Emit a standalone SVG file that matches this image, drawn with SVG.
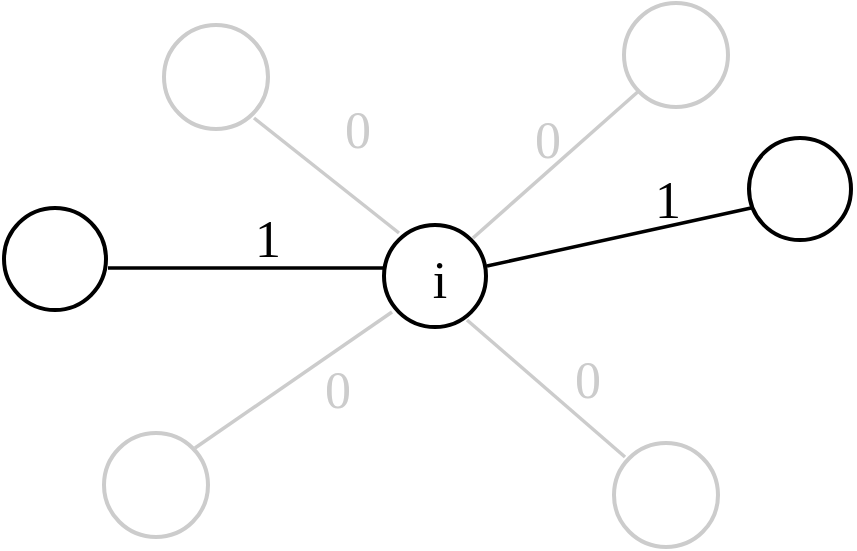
<svg xmlns="http://www.w3.org/2000/svg" width="857" height="551" viewBox="0 0 857 551">
<style>
.b{fill:#fff;stroke:#000;stroke-width:4}
.g{fill:#fff;stroke:#cccccc;stroke-width:4}
.eb{stroke:#000;stroke-width:3.5;fill:none}
.eg{stroke:#cccccc;stroke-width:3.5;fill:none}
text{font-family:"Liberation Serif","Times New Roman",serif;font-size:52px;text-anchor:middle}
.lb{fill:#000}
.lg{fill:#cccccc}
</style>
<rect width="857" height="551" fill="#fff"/>
<g id="edges">
<line class="eg" x1="254" y1="118" x2="399" y2="233"/>
<line class="eg" x1="641" y1="89" x2="473" y2="238"/>
<line class="eg" x1="392" y1="312" x2="195" y2="448"/>
<line class="eg" x1="467" y1="320" x2="625" y2="457"/>
<line class="eb" x1="108" y1="268" x2="384" y2="268"/>
<line class="eb" x1="487" y1="266" x2="751" y2="208"/>
<text class="lb" x="268" y="257">1</text>
<text class="lb" x="668" y="218">1</text>
<text class="lg" x="358" y="148">0</text>
<text class="lg" x="548" y="158">0</text>
<text class="lg" x="338" y="408">0</text>
<text class="lg" x="588" y="398">0</text>
</g>
<g id="n-i"><circle class="b" cx="435" cy="276" r="51"/><text class="lb" x="440" y="298">i</text></g>
<g id="n-left"><circle class="b" cx="55" cy="259" r="51"/></g>
<g id="n-right"><circle class="b" cx="800" cy="189" r="51"/></g>
<g id="n-tl"><circle class="g" cx="216" cy="77" r="52"/></g>
<g id="n-tr"><circle class="g" cx="676" cy="55" r="52"/></g>
<g id="n-bl"><circle class="g" cx="156" cy="485" r="52"/></g>
<g id="n-br"><circle class="g" cx="666" cy="495" r="52"/></g>
</svg>
